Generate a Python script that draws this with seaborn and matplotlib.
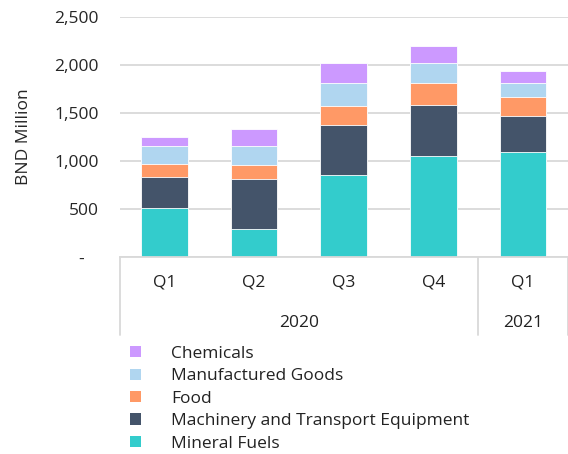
import matplotlib
matplotlib.use("Agg")
import matplotlib.pyplot as plt
import matplotlib.transforms as mtransforms
from matplotlib.patches import Patch
import pandas as pd
import seaborn as sns

# --------------------------------------------------------------------------- #
periods = ["Q1 2020", "Q2 2020", "Q3 2020", "Q4 2020", "Q1 2021"]
quarters = ["Q1", "Q2", "Q3", "Q4", "Q1"]
years = ["2020", "2021"]
year_spans = [(0, 3), (4, 4)]

# stacking order, bottom -> top
categories = ["Mineral Fuels", "Machinery and Transport Equipment", "Food",
              "Manufactured Goods", "Chemicals"]
mineral_fuels = [505, 283, 849, 1054, 1089]
machinery = [327, 525, 524, 535, 382]
food = [132, 145, 206, 226, 194]
manufactured = [187, 202, 236, 209, 146]
chemicals = [97, 181, 212, 173, 125]

colors = ["#33CCCC", "#44546A", "#FF9966", "#B0D6F0", "#CC99FF"]
# --------------------------------------------------------------------------- #

sns.set_theme(style="white")
plt.rcParams["font.family"] = ["Open Sans", "DejaVu Sans"]
plt.rcParams["text.color"] = "#222222"
FS = 12.5

series = [mineral_fuels, machinery, food, manufactured, chemicals]
df = pd.DataFrame(dict(zip(categories, series)), index=periods)
cum = df.cumsum(axis=1)

fig = plt.figure(figsize=(5.68, 4.54), dpi=100)
ax = fig.add_axes([0.2104, 0.435, 0.7896, 0.5265])

# draw tallest stack first so each layer overlaps the one below
for cat, col in reversed(list(zip(categories, colors))):
    d = pd.DataFrame({"period": periods, "value": cum[cat].values})
    sns.barplot(data=d, x="period", y="value", color=col, width=0.52,
                edgecolor="white", linewidth=0.6, saturation=1, ax=ax)

ax.set_xlim(-0.5, 4.5)
ax.set_ylim(0, 2500)
ax.set_yticks([0, 500, 1000, 1500, 2000, 2500])
ax.set_yticklabels(["-   ", "500", "1,000", "1,500", "2,000", "2,500"])
ax.yaxis.grid(True, color="#D9D9D9", linewidth=1.3)
ax.set_axisbelow(True)
ax.tick_params(axis="y", length=0, pad=15, labelsize=FS)
ax.set_xticks([])
ax.set_xlabel("")
ax.set_ylabel("BND Million", fontsize=FS, labelpad=16)
for s in ["top", "right", "left"]:
    ax.spines[s].set_visible(False)
ax.spines["bottom"].set_color("#D9D9D9")
ax.spines["bottom"].set_linewidth(1.3)

# category table below the axis
trans = mtransforms.blended_transform_factory(ax.transData, ax.transAxes)
for xv in [-0.5, 3.5, 4.5]:
    ax.plot([xv, xv], [0, -0.33], transform=trans, color="#D9D9D9",
            lw=1.3, clip_on=False)
for i, q in enumerate(quarters):
    ax.text(i, -0.11, q, transform=trans, ha="center", va="center",
            fontsize=FS)
for yr, (a, b) in zip(years, year_spans):
    ax.text((a + b) / 2, -0.278, yr, transform=trans, ha="center",
            va="center", fontsize=FS)

handles = [Patch(facecolor=c, edgecolor="none") for c in colors]
fig.legend(handles[::-1], categories[::-1], loc="upper left",
           bbox_to_anchor=(0.229, 0.238), frameon=False, fontsize=FS,
           handlelength=0.62, handleheight=0.62, handletextpad=1.75,
           labelspacing=0.37, borderaxespad=0, borderpad=0)

fig.savefig("out.png", dpi=100)
